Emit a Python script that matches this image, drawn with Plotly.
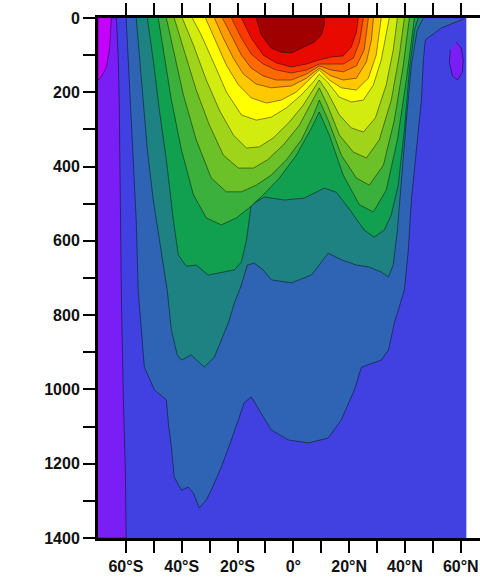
import plotly.graph_objects as go

# ---- data (latitude in degrees, depth in m) ----
LAT_MIN, LAT_MAX, DEPTH_MAX = -70, 62, 1400

x_tickvals = [-60, -40, -20, 0, 20, 40, 60]
x_ticktext = ["60°S", "40°S", "20°S", "0°", "20°N", "40°N", "60°N"]
x_minor = [-50, -30, -10, 10, 30, 50]
y_tickvals = [0, 200, 400, 600, 800, 1000, 1200, 1400]
y_minor = [100, 300, 500, 700, 900, 1100, 1300]

# cold regions
violet_lat = [-63.4, -62.7, -62.4, -62.0, -61.6, -60.9, -60.2, -59.9]
violet_dep = [0, 113, 221, 490, 759, 1028, 1217, 1400]
magenta_lat = [-65.2, -65.9, -67.0, -68.8, -70.0]
magenta_dep = [0, 86, 132, 159, 167]
lens_lat = [58.4, 60.2, 60.9, 60.6, 58.8, 57.0, 55.9, 56.3]
lens_dep = [65, 81, 113, 145, 167, 156, 118, 86]

# isolines, coldest to warmest (each bounds the warmer water above it)
iso = [
    ("steel",
     [-59.9, -58.8, -57.3, -56.3, -55.6, -54.5, -53.4, -49.8, -45.5, -44.8, -43.7, -42.7, -40.1, -37.6, -35.8,
      -33.7, -31.2, -29.4, -25.8, -22.2, -19.7, -17.6, -15.1, -11.5, -7.9, -1.8, 5.4, 12.5, 17.2, 21.9, 24.4,
      31.5, 34.1, 36.2, 38.7, 39.8, 41.2, 42.3, 44.1, 45.9, 46.6, 47.3, 53.0, 60.9],
     [0, 167, 355, 544, 732, 840, 940, 1001, 1028, 1090, 1155, 1236, 1271, 1263, 1279,
      1319, 1298, 1271, 1209, 1136, 1082, 1036, 1020, 1063, 1109, 1136, 1144, 1131, 1082, 1001, 940,
      921, 894, 821, 759, 732, 625, 490, 355, 221, 113, 59, 27, 3]),
    ("teal",
     [-56.3, -54.5, -52.3, -50.2, -47.3, -45.2, -43.7, -41.6, -40.1, -36.6, -31.9, -28.3, -23.3, -21.1, -18.6,
      -16.5, -14.0, -10.8, -7.9, -0.7, 6.5, 10.0, 12.5, 17.2, 22.6, 26.9, 31.5, 34.1, 35.8, 37.3, 38.7, 40.5,
      42.3, 44.4, 46.6],
     [0, 167, 355, 490, 625, 732, 840, 907, 921, 907, 940, 913, 821, 767, 719,
      665, 660, 678, 705, 713, 692, 657, 633, 651, 665, 670, 684, 697, 665, 571, 436, 275,
      127, 32, 0]),
    ("green",
     [-52.3, -50.2, -48.0, -45.5, -43.0, -41.2, -38.4, -34.8, -30.5, -25.8, -21.1, -18.6, -16.8, -15.1, -10.4,
      -3.2, 3.9, 11.1, 15.4, 20.8, 25.4, 29.0, 32.6, 35.1, 37.6, 39.8, 41.6, 43.4, 44.8],
     [0, 113, 248, 382, 544, 638, 668, 665, 692, 684, 678, 657, 598, 503, 482,
      490, 485, 458, 469, 522, 571, 590, 571, 530, 450, 301, 140, 32, 0]),
    ("green2",
     [-48.4, -46.6, -43.7, -40.1, -35.8, -31.2, -25.8, -20.4, -15.8, -10.8, -5.0, 1.1, 6.5, 9.3, 12.9, 17.9,
      23.7, 28.7, 33.3, 37.3, 40.5, 43.4],
     [0, 86, 221, 355, 476, 538, 557, 538, 511, 476, 431, 369, 296, 253, 315, 423,
      503, 522, 463, 328, 167, 0]),
    ("green3",
     [-45.5, -43.0, -39.4, -34.8, -29.4, -24.0, -18.6, -13.3, -7.9, -2.5, 2.9, 7.2, 9.3, 12.5, 17.2, 22.6,
      27.2, 32.3, 36.2, 39.4, 41.6],
     [0, 86, 207, 328, 431, 468, 468, 450, 423, 382, 328, 261, 221, 275, 369, 431,
      450, 396, 275, 127, 0]),
    ("yg",
     [-42.7, -39.1, -34.8, -30.1, -25.1, -19.7, -14.3, -9.3, -3.6, 2.2, 6.5, 9.3, 12.2, 16.5, 21.5, 26.2,
      30.8, 35.1, 38.0, 39.8],
     [0, 86, 194, 288, 369, 404, 404, 382, 342, 288, 226, 188, 234, 315, 361, 377,
      328, 221, 100, 0]),
    ("ylg",
     [-39.8, -35.8, -31.2, -26.5, -21.5, -16.8, -12.2, -7.2, -1.4, 3.6, 7.5, 9.3, 12.2, 16.5, 20.8, 25.1,
      29.4, 33.3, 35.8, 37.3],
     [0, 73, 167, 248, 315, 350, 347, 323, 280, 234, 188, 167, 199, 261, 296, 307,
      269, 180, 86, 0]),
    ("yellow",
     [-36.2, -33.0, -28.7, -24.0, -18.6, -13.3, -7.9, -2.5, 2.9, 7.2, 9.3, 12.2, 16.5, 20.8, 25.1, 28.7,
      31.5, 33.3, 34.4],
     [0, 46, 118, 199, 261, 275, 267, 242, 207, 172, 151, 172, 213, 226, 221, 180,
      113, 46, 0]),
    ("oy",
     [-31.5, -27.6, -24.0, -19.7, -15.1, -9.7, -4.3, 1.1, 5.7, 9.3, 12.9, 17.2, 22.6, 26.9, 29.7, 31.5],
     [0, 65, 127, 180, 215, 229, 221, 199, 167, 140, 167, 188, 194, 162, 100, 0]),
    ("orange",
     [-28.3, -25.1, -21.5, -17.9, -13.3, -7.9, -0.7, 4.7, 9.3, 13.6, 17.9, 22.6, 26.2, 28.0, 28.7],
     [0, 54, 108, 151, 178, 188, 183, 162, 135, 156, 167, 162, 118, 59, 0]),
    ("dorange",
     [-25.4, -22.2, -18.6, -15.1, -10.8, -6.1, -0.7, 4.7, 9.3, 13.6, 17.9, 22.6, 25.4, 26.9],
     [0, 48, 100, 135, 156, 167, 167, 151, 129, 140, 145, 129, 86, 0]),
    ("redorange",
     [-22.2, -18.6, -15.1, -10.8, -6.1, -0.7, 4.7, 9.3, 13.6, 17.9, 21.5, 23.7, 25.1],
     [0, 54, 97, 124, 140, 148, 140, 124, 124, 124, 108, 65, 0]),
    ("red",
     [-18.6, -15.1, -10.8, -6.1, -0.7, 4.7, 9.3, 13.6, 17.9, 20.8, 22.6, 23.3],
     [0, 54, 100, 121, 132, 124, 113, 105, 102, 78, 38, 0]),
    ("darkred",
     [-13.3, -11.5, -7.9, -4.3, -0.7, 2.9, 7.5, 10.0, 11.1, 11.1],
     [0, 46, 81, 92, 94, 81, 65, 46, 19, 0]),
]

colors = {
    "magenta": "#C400FF", "violet": "#7A1EF6", "blue": "#4141E1", "steel": "#2F64B4",
    "teal": "#1E8282", "green": "#10A050", "green2": "#3CB03C", "green3": "#6CC028",
    "yg": "#A0D41A", "ylg": "#D2EC10", "yellow": "#FFFF00", "oy": "#FFC800",
    "orange": "#FF9A00", "dorange": "#FF6A00", "redorange": "#FF3A00", "red": "#E80A00",
    "darkred": "#A00000",
}
LINE = "rgba(0,0,0,0.45)"

fig = go.Figure()

def poly(xs, ys, color, line=True):
    fig.add_trace(go.Scatter(
        x=xs, y=ys, mode="lines", fill="toself", fillcolor=color,
        line=dict(color=LINE if line else color, width=1 if line else 0),
        hoverinfo="skip", showlegend=False))

# deep background water
poly([LAT_MIN, LAT_MAX, LAT_MAX, LAT_MIN], [0, 0, DEPTH_MAX, DEPTH_MAX], colors["blue"], line=False)
# cold southern strip
poly([LAT_MIN] + violet_lat + [LAT_MIN], [0] + violet_dep + [DEPTH_MAX], colors["violet"])
poly(magenta_lat + [LAT_MIN], magenta_dep + [0], colors["magenta"])
poly(lens_lat, lens_dep, colors["violet"])
for name, la, de in iso:
    poly(la, de, colors[name])

font = dict(family="Liberation Sans, Arial, sans-serif", size=16, color="#111")
tickfont = dict(size=16, weight="bold")
fig.update_layout(
    width=480, height=580,
    margin=dict(l=98, r=0, t=18, b=42),
    paper_bgcolor="white", plot_bgcolor="white",
    font=font,
    xaxis=dict(range=[-70, 66.9], tickmode="array", tickvals=x_tickvals, ticktext=x_ticktext,
               ticks="outside", ticklen=12, tickwidth=2, tickcolor="black",
               minor=dict(tickmode="array", tickvals=x_minor, ticks="outside", ticklen=12,
                          tickwidth=2, tickcolor="black", showgrid=False),
               showline=True, linewidth=3, linecolor="black", mirror="ticks",
               showgrid=False, zeroline=False, tickfont=tickfont, automargin=False),
    yaxis=dict(range=[DEPTH_MAX, 0], tickmode="array", tickvals=y_tickvals,
               ticks="outside", ticklen=12, tickwidth=2, tickcolor="black",
               minor=dict(tickmode="array", tickvals=y_minor, ticks="outside", ticklen=12,
                          tickwidth=2, tickcolor="black", showgrid=False),
               showline=True, linewidth=3, linecolor="black",
               showgrid=False, zeroline=False, tickfont=tickfont, automargin=False),
)

fig.write_html("out.html", config={"displayModeBar": False},
               post_script="document.body.style.margin='0';document.body.style.overflow='hidden';")
